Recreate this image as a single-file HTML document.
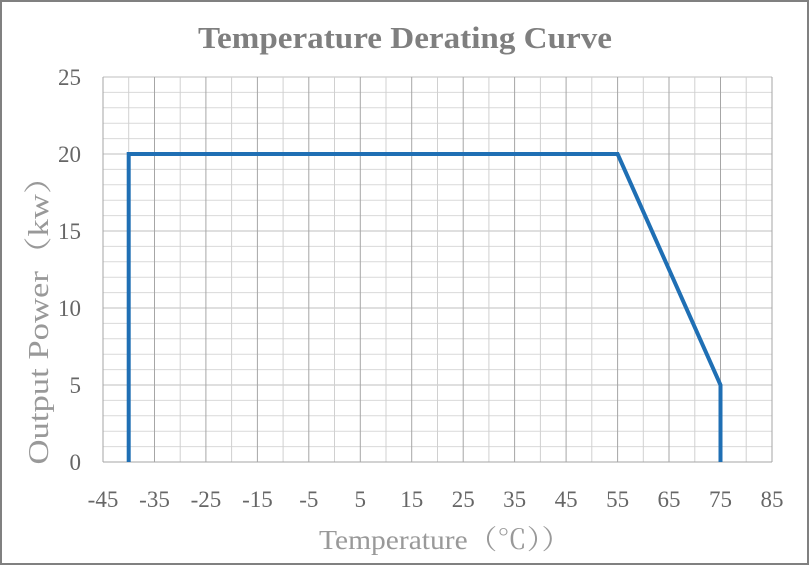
<!DOCTYPE html>
<html><head><meta charset="utf-8"><style>
html,body{margin:0;padding:0;background:#fff}
</style></head><body>
<svg width="810" height="566" xmlns="http://www.w3.org/2000/svg" font-family="Liberation Serif, Noto Serif CJK SC, serif">
<rect x="1" y="1" width="807" height="563" fill="#fff" stroke="#808080" stroke-width="2"/>
<text x="405" y="48" text-anchor="middle" font-size="31" font-weight="bold" fill="#7f7f7f" textLength="414" lengthAdjust="spacingAndGlyphs">Temperature Derating Curve</text>
<g id="grid">
<g stroke="#d9d9d9" stroke-width="1">
<line x1="103" x2="772" y1="92.4" y2="92.4"/><line x1="103" x2="772" y1="107.8" y2="107.8"/><line x1="103" x2="772" y1="123.2" y2="123.2"/><line x1="103" x2="772" y1="138.6" y2="138.6"/>
<line x1="103" x2="772" y1="169.4" y2="169.4"/><line x1="103" x2="772" y1="184.8" y2="184.8"/><line x1="103" x2="772" y1="200.2" y2="200.2"/><line x1="103" x2="772" y1="215.6" y2="215.6"/>
<line x1="103" x2="772" y1="246.4" y2="246.4"/><line x1="103" x2="772" y1="261.8" y2="261.8"/><line x1="103" x2="772" y1="277.2" y2="277.2"/><line x1="103" x2="772" y1="292.6" y2="292.6"/>
<line x1="103" x2="772" y1="323.4" y2="323.4"/><line x1="103" x2="772" y1="338.8" y2="338.8"/><line x1="103" x2="772" y1="354.2" y2="354.2"/><line x1="103" x2="772" y1="369.6" y2="369.6"/>
<line x1="103" x2="772" y1="400.4" y2="400.4"/><line x1="103" x2="772" y1="415.8" y2="415.8"/><line x1="103" x2="772" y1="431.2" y2="431.2"/><line x1="103" x2="772" y1="446.6" y2="446.6"/>
</g>
<g stroke="#bfbfbf" stroke-width="1">
<line x1="103" x2="772" y1="77" y2="77"/><line x1="103" x2="772" y1="154" y2="154"/><line x1="103" x2="772" y1="231" y2="231"/><line x1="103" x2="772" y1="308" y2="308"/><line x1="103" x2="772" y1="385" y2="385"/>
</g>
<g stroke="#d0d0d0" stroke-width="1">
<line y1="77" y2="462" x1="128.7" x2="128.7"/><line y1="77" y2="462" x1="180.2" x2="180.2"/><line y1="77" y2="462" x1="231.6" x2="231.6"/><line y1="77" y2="462" x1="283.1" x2="283.1"/><line y1="77" y2="462" x1="334.5" x2="334.5"/><line y1="77" y2="462" x1="386" x2="386"/><line y1="77" y2="462" x1="437.5" x2="437.5"/><line y1="77" y2="462" x1="488.9" x2="488.9"/><line y1="77" y2="462" x1="540.4" x2="540.4"/><line y1="77" y2="462" x1="591.8" x2="591.8"/><line y1="77" y2="462" x1="643.3" x2="643.3"/><line y1="77" y2="462" x1="694.8" x2="694.8"/><line y1="77" y2="462" x1="746.2" x2="746.2"/>
</g>
<g stroke="#a6a6a6" stroke-width="1">
<line y1="77" y2="462" x1="103" x2="103"/><line y1="77" y2="462" x1="154.5" x2="154.5"/><line y1="77" y2="462" x1="205.9" x2="205.9"/><line y1="77" y2="462" x1="257.4" x2="257.4"/><line y1="77" y2="462" x1="308.8" x2="308.8"/><line y1="77" y2="462" x1="360.3" x2="360.3"/><line y1="77" y2="462" x1="411.7" x2="411.7"/><line y1="77" y2="462" x1="463.2" x2="463.2"/><line y1="77" y2="462" x1="514.6" x2="514.6"/><line y1="77" y2="462" x1="566.1" x2="566.1"/><line y1="77" y2="462" x1="617.6" x2="617.6"/><line y1="77" y2="462" x1="669" x2="669"/><line y1="77" y2="462" x1="720.5" x2="720.5"/><line y1="77" y2="462" x1="772" x2="772"/>
</g>
<line x1="103" x2="772" y1="462" y2="462" stroke="#a6a6a6"/>
</g>
<polyline points="128.7,462 128.7,154 617.6,154 720.5,385 720.5,462" fill="none" stroke="#1f6fb4" stroke-width="4" stroke-linejoin="miter"/>
<g font-size="23" fill="#666" text-anchor="end">
<text x="81" y="85">25</text><text x="81" y="162">20</text><text x="81" y="239">15</text><text x="81" y="316">10</text><text x="81" y="393">5</text><text x="81" y="470">0</text>
</g>
<g font-size="23" fill="#666" text-anchor="middle">
<text x="103" y="507">-45</text><text x="154.5" y="507">-35</text><text x="205.9" y="507">-25</text><text x="257.4" y="507">-15</text><text x="308.8" y="507">-5</text><text x="360.3" y="507">5</text><text x="411.7" y="507">15</text><text x="463.2" y="507">25</text><text x="514.6" y="507">35</text><text x="566.1" y="507">45</text><text x="617.6" y="507">55</text><text x="669" y="507">65</text><text x="720.5" y="507">75</text><text x="772" y="507">85</text>
</g>
<text x="445" y="549" text-anchor="middle" font-size="27" fill="#999" textLength="252" lengthAdjust="spacingAndGlyphs">Temperature（℃））</text>
<text transform="translate(48,312) rotate(-90)" text-anchor="middle" font-size="28" fill="#999" textLength="305" lengthAdjust="spacingAndGlyphs">Output Power（kw）</text>
</svg>
</body></html>
